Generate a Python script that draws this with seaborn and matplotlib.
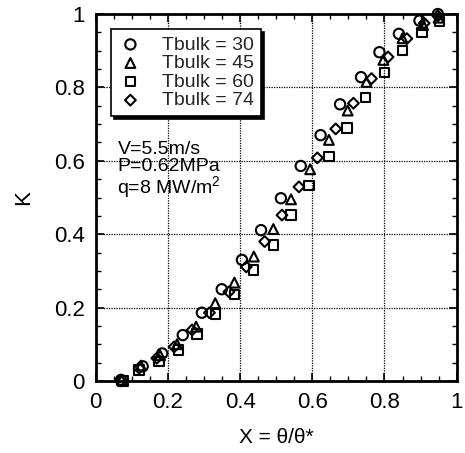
import numpy as np
import pandas as pd
import matplotlib
matplotlib.use("Agg")
import matplotlib.pyplot as plt
import seaborn as sns
from matplotlib.ticker import MultipleLocator, FuncFormatter

# Data, one array pair per Tbulk series
x_30 = [0.070, 0.130, 0.184, 0.241, 0.294, 0.349, 0.405, 0.458, 0.513, 0.568,
        0.623, 0.677, 0.735, 0.786, 0.840, 0.897, 0.948]
k_30 = [0.003, 0.040, 0.075, 0.125, 0.186, 0.250, 0.330, 0.411, 0.498, 0.586,
        0.670, 0.754, 0.828, 0.896, 0.946, 0.982, 1.000]

x_45 = [0.072, 0.125, 0.178, 0.225, 0.278, 0.331, 0.384, 0.438, 0.492, 0.541,
        0.594, 0.646, 0.698, 0.750, 0.797, 0.850, 0.907, 0.950]
k_45 = [0.003, 0.042, 0.070, 0.100, 0.148, 0.212, 0.268, 0.339, 0.414, 0.495,
        0.577, 0.657, 0.737, 0.815, 0.875, 0.934, 0.970, 0.990]

x_60 = [0.075, 0.120, 0.175, 0.230, 0.280, 0.332, 0.385, 0.437, 0.492, 0.541,
        0.591, 0.646, 0.696, 0.748, 0.800, 0.850, 0.904, 0.952]
k_60 = [0.000, 0.030, 0.053, 0.084, 0.128, 0.182, 0.236, 0.302, 0.371, 0.452,
        0.532, 0.611, 0.690, 0.772, 0.840, 0.901, 0.950, 0.980]

x_74 = [0.068, 0.120, 0.169, 0.217, 0.267, 0.315, 0.369, 0.417, 0.468, 0.516,
        0.563, 0.614, 0.665, 0.714, 0.764, 0.810, 0.862, 0.910, 0.948]
k_74 = [0.000, 0.035, 0.062, 0.093, 0.139, 0.186, 0.243, 0.311, 0.380, 0.452,
        0.529, 0.608, 0.687, 0.757, 0.824, 0.883, 0.933, 0.975, 0.995]

labels = ['Tbulk = 30', 'Tbulk = 45', 'Tbulk = 60', 'Tbulk = 74']
markers = ['o', '^', 's', 'D']
sizes = [55, 50, 46, 30]

series = [(x_30, k_30), (x_45, k_45), (x_60, k_60), (x_74, k_74)]

sns.set_theme(style="ticks")
plt.rcParams['font.family'] = ['Liberation Sans', 'DejaVu Sans']
plt.rcParams['mathtext.fontset'] = 'custom'
plt.rcParams['mathtext.rm'] = 'Liberation Sans'


def tick_fmt(v, pos):
    if abs(v - round(v)) < 1e-9:
        return '%d' % round(v)
    return '%.1f' % v


fig = plt.figure(figsize=(4.65, 4.53), dpi=100)
ax = fig.add_axes([0.206, 0.159, 0.776, 0.810])

for (xs, ks), lab, m, s in zip(series, labels, markers, sizes):
    df = pd.DataFrame({'X': xs, 'K': ks})
    sns.scatterplot(data=df, x='X', y='K', marker=m, s=s, color='black',
                    facecolor='none', edgecolor='black', linewidth=1.5,
                    label=lab, ax=ax, clip_on=False, zorder=3)

ax.set_xlim(0, 1)
ax.set_ylim(0, 1)
ax.xaxis.set_major_locator(MultipleLocator(0.2))
ax.yaxis.set_major_locator(MultipleLocator(0.2))
ax.xaxis.set_minor_locator(MultipleLocator(0.05))
ax.yaxis.set_minor_locator(MultipleLocator(0.05))
ax.xaxis.set_major_formatter(FuncFormatter(tick_fmt))
ax.yaxis.set_major_formatter(FuncFormatter(tick_fmt))
ax.tick_params(which='both', direction='in', top=True, right=True,
               color='black', labelsize=16, labelcolor='black')
ax.tick_params(which='major', length=6, width=1.2, pad=8)
ax.tick_params(which='minor', length=3.5, width=1.0)
ax.grid(True, which='major', color='black', linestyle=(0, (1, 1)), linewidth=0.9)
for sp in ax.spines.values():
    sp.set_linewidth(2.0)
    sp.set_color('black')

ax.set_xlabel('X = θ/θ*', fontsize=15, color='black', labelpad=11)
ax.set_ylabel('K', fontsize=16, color='black', labelpad=14)

leg = ax.legend(loc='upper left', bbox_to_anchor=(0.042, 0.959),
                borderaxespad=0, fontsize=14, frameon=True, fancybox=False,
                edgecolor='black', framealpha=1, labelspacing=0.05,
                handletextpad=1.0, handlelength=1.3, borderpad=0.35,
                shadow={'color': 'black', 'alpha': 1})
leg.get_frame().set_linewidth(1.2)

ax.text(0.06, 0.655, 'V=5.5m/s\nP=0.62MPa\nq=8 MW/m$^2$', transform=ax.transAxes,
        fontsize=14, color='black', va='top', ha='left', linespacing=1.0)

fig.savefig('out.png', dpi=100)
